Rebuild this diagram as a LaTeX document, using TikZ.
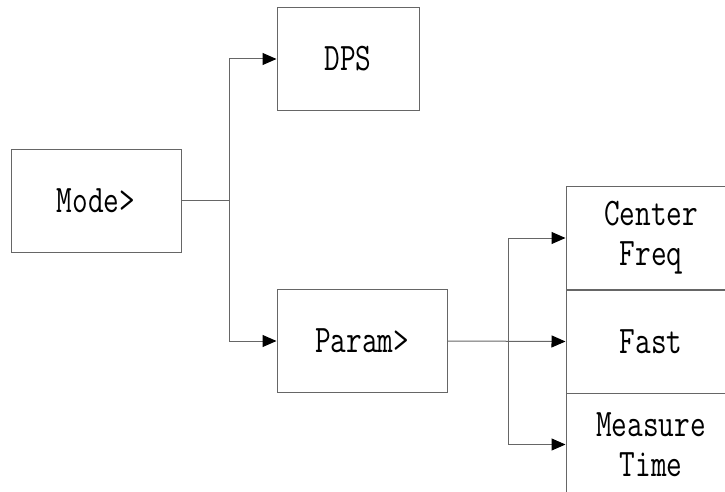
\documentclass[tikz,border=0pt]{standalone}
\usepackage{fontspec}
\newfontfamily\boxfont[FakeStretch=0.78]{Latin Modern Mono}
\usetikzlibrary{arrows.meta}
\tikzset{
  menubox/.style={draw=black!60, line width=1pt, minimum width=170pt, minimum height=103pt,
    inner sep=0pt, align=center, font=\boxfont\fontsize{39}{40}\selectfont, text=black},
  link/.style={draw=black!60, line width=1pt},
  arr/.style={link, -{Triangle[length=14pt, width=12pt, color=black]}}
}
\begin{document}
\begin{tikzpicture}[x=1pt, y=-1pt]
  \useasboundingbox (0,0) rectangle (725,492);
  \clip (0,0) rectangle (725,492);
  % main menu boxes
  \node[menubox] (mode) at (96,200.5) {Mode>};
  \node[menubox, minimum width=142pt] (dps) at (348,59) {DPS};
  \node[menubox] (param) at (362,341) {Param>};
  % parameter submenu stack
  \node[menubox] (cf) at (651,238) {Center\\Freq};
  \node[menubox] (fast) at (651,341.5) {Fast};
  \node[menubox] (mt) at (651,444.5) {Measure\\Time};
  % connectors
  \coordinate (j1) at (229,200.5);
  \coordinate (j2) at (508,341);
  \draw[link] (mode.east) -- (j1);
  \draw[arr] (j1) |- (dps.west);
  \draw[arr] (j1) |- (param.west);
  \draw[arr] (param.east) -- (fast.west);
  \draw[arr] (j2) |- (cf.west);
  \draw[arr] (j2) |- (mt.west);
\end{tikzpicture}
\end{document}
